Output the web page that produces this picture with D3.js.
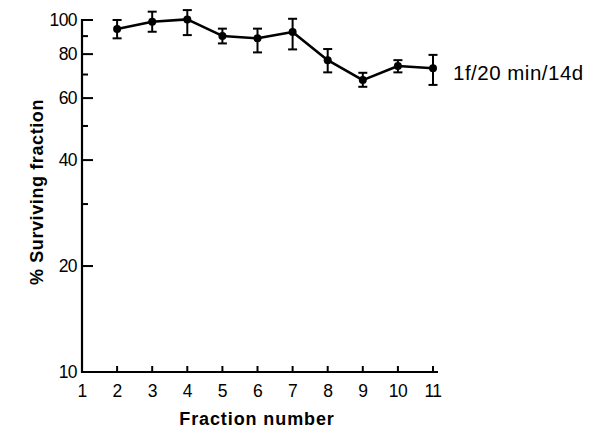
<!DOCTYPE html>
<html><head><meta charset="utf-8">
<script src="https://cdn.jsdelivr.net/npm/d3@7/dist/d3.min.js"></script>
<style>body{margin:0;background:#fff}svg{display:block}</style>
</head><body><svg id="c" width="591" height="429"></svg>
<script>
const fractions = [2, 3, 4, 5, 6, 7, 8, 9, 10, 11];
const survival = [94.3, 98.9, 100.4, 90.1, 88.7, 92.4, 76.9, 67.5, 74.0, 72.9];
const errUpper = [100, 105.6, 106.7, 94.5, 94.5, 100.8, 82.7, 70.8, 76.9, 79.6];
const errLower = [88.7, 92.6, 90.6, 85.8, 80.9, 82.5, 71.0, 64.6, 71.0, 65.4];
const xTicks = [1, 2, 3, 4, 5, 6, 7, 8, 9, 10, 11];
const yMajor = [10, 20, 40, 60, 80, 100];
const yMinor = [30, 50, 70, 90];
const seriesLabel = "1f/20 min/14d";

const svg = d3.select("#c");
const font = "'Liberation Sans', Arial, Helvetica, sans-serif";
const x = d3.scaleLinear().domain([1, 11]).range([82, 433]);
const y = d3.scaleLog().domain([10, 100]).range([372, 20]);

// Y axis
const yAx = svg.append("g").attr("transform", "translate(82,0)");
yAx.append("line").attr("x1", 0).attr("x2", 0).attr("y1", y(100)-1).attr("y2", y(10)+1)
  .attr("stroke", "#000").attr("stroke-width", 2.2);
yAx.selectAll(".maj").data(yMajor).join("line")
  .attr("x1", 0).attr("x2", 11).attr("y1", d => y(d)).attr("y2", d => y(d))
  .attr("stroke", "#000").attr("stroke-width", 2);
yAx.selectAll(".min").data(yMinor).join("line")
  .attr("x1", 0).attr("x2", 6).attr("y1", d => y(d)).attr("y2", d => y(d))
  .attr("stroke", "#000").attr("stroke-width", 2);
yAx.selectAll("text").data(yMajor).join("text")
  .attr("x", -5).attr("y", d => y(d)).attr("dy", "0.36em")
  .attr("text-anchor", "end").attr("font-family", font).attr("font-size", 17.5)
  .attr("letter-spacing", -0.6).text(d => d);

// X axis
const xAx = svg.append("g").attr("transform", "translate(0,372)");
xAx.append("line").attr("x1", 81).attr("x2", 438).attr("y1", 0).attr("y2", 0)
  .attr("stroke", "#000").attr("stroke-width", 2.2);
xAx.selectAll(".t").data(xTicks.slice(1)).join("line")
  .attr("x1", d => x(d)).attr("x2", d => x(d)).attr("y1", 0).attr("y2", -6)
  .attr("stroke", "#000").attr("stroke-width", 2);
xAx.selectAll("text").data(xTicks).join("text")
  .attr("x", d => x(d)).attr("y", 25)
  .attr("text-anchor", "middle").attr("font-family", font).attr("font-size", 17.5)
  .attr("letter-spacing", -0.6).text(d => d);

// Axis titles
svg.append("text").attr("x", 257).attr("y", 425).attr("text-anchor", "middle")
  .attr("font-family", font).attr("font-size", 18).attr("font-weight", "bold")
  .attr("letter-spacing", 0.9).text("Fraction number");
svg.append("text").attr("transform", "translate(43,192) rotate(-90)").attr("text-anchor", "middle")
  .attr("font-family", font).attr("font-size", 18).attr("font-weight", "bold")
  .attr("letter-spacing", 0.6).text("% Surviving fraction");

const data = fractions.map((f, i) => ({f, v: survival[i], hi: errUpper[i], lo: errLower[i]}));

// Error bars
const eb = svg.append("g").attr("stroke", "#000").attr("stroke-width", 2);
eb.selectAll(".v").data(data).join("line")
  .attr("x1", d => x(d.f)).attr("x2", d => x(d.f)).attr("y1", d => y(d.hi)).attr("y2", d => y(d.lo));
eb.selectAll(".h").data(data).join("line")
  .attr("x1", d => x(d.f) - 4.5).attr("x2", d => x(d.f) + 4.5).attr("y1", d => y(d.hi)).attr("y2", d => y(d.hi));
eb.selectAll(".l").data(data).join("line")
  .attr("x1", d => x(d.f) - 4.5).attr("x2", d => x(d.f) + 4.5).attr("y1", d => y(d.lo)).attr("y2", d => y(d.lo));

// Line
svg.append("path").datum(data)
  .attr("d", d3.line().x(d => x(d.f)).y(d => y(d.v)))
  .attr("fill", "none").attr("stroke", "#000").attr("stroke-width", 2.6).attr("stroke-linejoin", "round");
svg.selectAll("circle").data(data).join("circle")
  .attr("cx", d => x(d.f)).attr("cy", d => y(d.v)).attr("r", 4).attr("fill", "#000");

// Series label
svg.append("text").attr("x", 453).attr("y", 80)
  .attr("font-family", font).attr("font-size", 20.5).attr("letter-spacing", 0.5).text(seriesLabel);
</script></body></html>
